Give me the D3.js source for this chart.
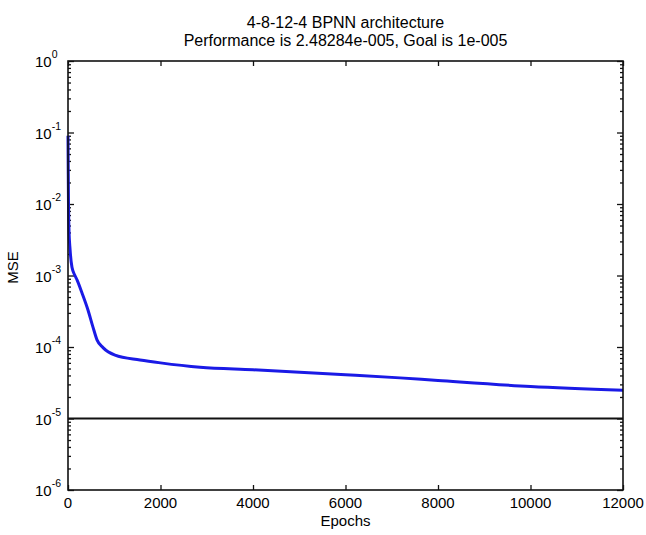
<!DOCTYPE html>
<html lang="en">
<head>
<meta charset="utf-8">
<title>4-8-12-4 BPNN architecture</title>
<script src="https://d3js.org/d3.v7.min.js"></script>
<style>
body { margin: 0; background: #fff; }
text { font-family: "Liberation Sans", Arial, sans-serif; fill: #000; }
</style>
</head>
<body>
<script>
// chart size
var width = 646, height = 535;
var margin = { top: 61, right: 23, bottom: 45, left: 68 };
var w = width - margin.left - margin.right;
var h = height - margin.top - margin.bottom;

// data
var epochs = [0, 5, 10, 20, 45, 86, 150, 195, 303, 432, 540, 627, 757, 1016, 1557, 2000, 2854, 4000, 6000, 7178, 8000, 10000, 12000];
var mse = [0.09, 0.03, 0.0114, 0.0046, 0.0023, 0.0013, 0.001, 8.7e-4, 5.7e-4, 3.3e-4, 1.9e-4, 1.26e-4, 9.8e-5, 7.7e-5, 6.6e-5, 6.0e-5, 5.2e-5, 4.8e-5, 4.1e-5, 3.7e-5, 3.4e-5, 2.8e-5, 2.48e-5];
var goal = 1e-5;

var xTicks = [0, 2000, 4000, 6000, 8000, 10000, 12000];
var yExponents = [0, -1, -2, -3, -4, -5, -6];
var titleLines = ["4-8-12-4 BPNN architecture", "Performance is 2.48284e-005, Goal is 1e-005"];

var x = d3.scaleLinear().domain([0, 12000]).range([0, w]);
var y = d3.scaleLog().domain([1e-6, 1]).range([h, 0]);

var yMajor = yExponents.map(function(e) { return Math.pow(10, e); });
var yMinor = [];
yExponents.forEach(function(e) {
	if (e === 0) return;
	for (var k = 2; k <= 9; k++) yMinor.push(k * Math.pow(10, e));
});

var svg = d3.select("body").append("svg")
	.attr("width", width)
	.attr("height", height);

var g = svg.append("g")
	.attr("transform", "translate(" + margin.left + "," + margin.top + ")");

// inward ticks on all four sides, like matlab
function tickAxis(axis, sel) {
	sel.call(axis);
	sel.select(".domain").remove();
	sel.selectAll(".tick line").attr("stroke", "#111").attr("stroke-width", 1.3);
	sel.selectAll(".tick text").remove();
}

g.append("g").attr("transform", "translate(0," + h + ")")
	.call(function(s) { tickAxis(d3.axisBottom(x).tickValues(xTicks).tickSize(-5), s); });
g.append("g")
	.call(function(s) { tickAxis(d3.axisTop(x).tickValues(xTicks).tickSize(-5), s); });
g.append("g")
	.call(function(s) { tickAxis(d3.axisLeft(y).tickValues(yMajor).tickSize(-6), s); });
g.append("g")
	.call(function(s) { tickAxis(d3.axisLeft(y).tickValues(yMinor).tickSize(-3), s); });
g.append("g").attr("transform", "translate(" + w + ",0)")
	.call(function(s) { tickAxis(d3.axisRight(y).tickValues(yMajor).tickSize(-6), s); });
g.append("g").attr("transform", "translate(" + w + ",0)")
	.call(function(s) { tickAxis(d3.axisRight(y).tickValues(yMinor).tickSize(-3), s); });

// goal line
g.append("line")
	.attr("x1", x(0)).attr("x2", x(12000))
	.attr("y1", y(goal)).attr("y2", y(goal))
	.attr("stroke", "#111")
	.attr("stroke-width", 2.2);

// training curve
var line = d3.line()
	.x(function(d, i) { return x(epochs[i]); })
	.y(function(d) { return y(d); })
	.curve(d3.curveMonotoneX);

g.append("path")
	.datum(mse)
	.attr("d", line)
	.attr("fill", "none")
	.attr("stroke", "#1a1ae6")
	.attr("stroke-width", 3);

// plot box
g.append("rect")
	.attr("width", w).attr("height", h)
	.attr("fill", "none")
	.attr("stroke", "#111")
	.attr("stroke-width", 1.6);

// x tick labels
g.selectAll(".xlab")
	.data(xTicks)
	.enter().append("text")
	.attr("class", "xlab")
	.attr("x", function(d) { return x(d); })
	.attr("y", h + 18)
	.attr("text-anchor", "middle")
	.attr("font-size", "15px")
	.text(function(d) { return d; });

// y tick labels: 10 with superscript exponent
var ylab = g.selectAll(".ylab")
	.data(yExponents)
	.enter().append("text")
	.attr("class", "ylab")
	.attr("x", -33)
	.attr("y", function(e) { return y(Math.pow(10, e)) + 6; })
	.attr("font-size", "15px");
ylab.append("tspan").text("10");
ylab.append("tspan")
	.attr("dy", -9)
	.attr("font-size", "10.5px")
	.text(function(e) { return e; });

// titles
svg.selectAll(".title")
	.data(titleLines)
	.enter().append("text")
	.attr("class", "title")
	.attr("x", margin.left + w / 2)
	.attr("y", function(d, i) { return 28 + i * 18; })
	.attr("text-anchor", "middle")
	.attr("font-size", "16px")
	.text(function(d) { return d; });

svg.append("text")
	.attr("x", margin.left + w / 2)
	.attr("y", 526)
	.attr("text-anchor", "middle")
	.attr("font-size", "15px")
	.text("Epochs");

svg.append("text")
	.attr("transform", "translate(18," + (margin.top + y(1e-3) - 8) + ") rotate(-90)")
	.attr("text-anchor", "middle")
	.attr("font-size", "15px")
	.text("MSE");
</script>
</body>
</html>
